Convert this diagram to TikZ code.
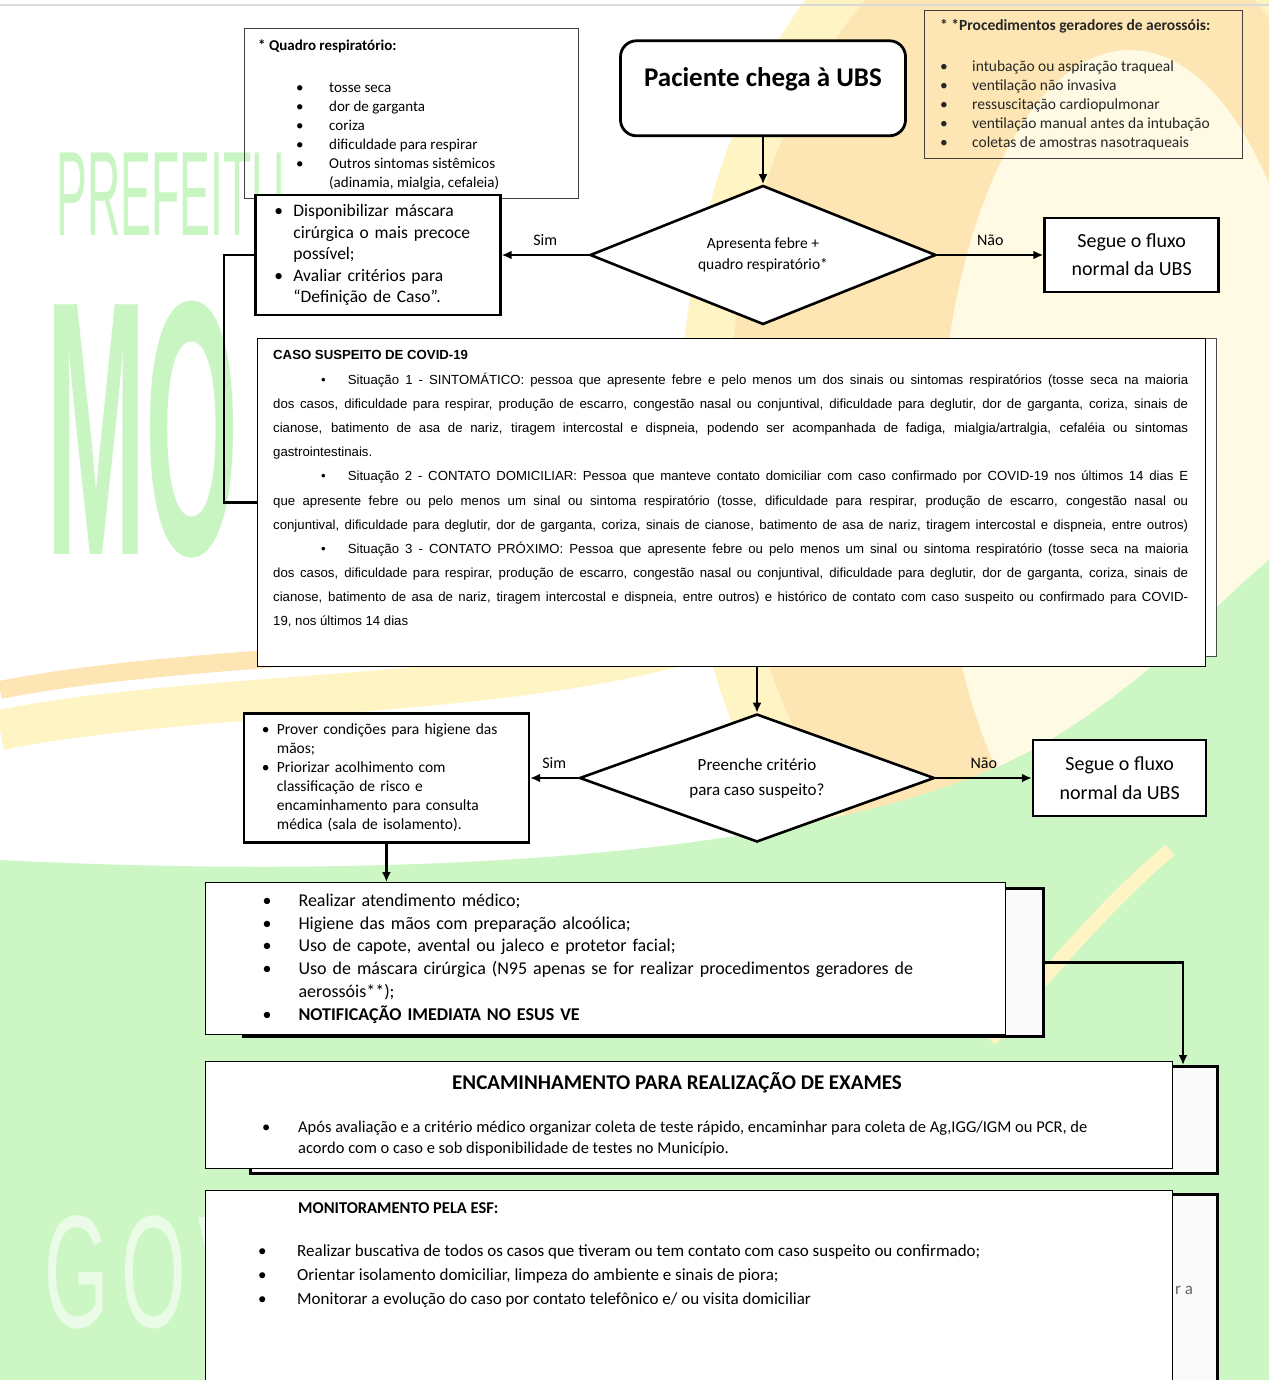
\documentclass[tikz,border=0pt]{standalone}
\usepackage{fontspec}
\setmainfont{Carlito}
\newfontfamily\arialf{Liberation Sans}
\usetikzlibrary{shapes.geometric,arrows.meta,positioning,calc}
\definecolor{wmgreen}{RGB}{204,247,196}
\definecolor{wmletter}{RGB}{200,245,194}
\definecolor{wmorange}{RGB}{253,230,180}
\definecolor{wmyellow}{RGB}{255,244,196}
\definecolor{wmpale}{RGB}{255,250,228}
\newcommand{\bul}[2]{\makebox[#1][l]{\textbullet}#2}
\newcommand{\jl}[1]{\makebox[915pt][s]{#1}}
\tikzset{
    x=1pt, y=-1pt,
    flow/.style={-{Latex[length=10pt,width=9pt]}, line width=2.6pt},
    flowline/.style={line width=2.6pt},
    start/.style={rectangle, rounded corners=16pt, draw, line width=2.8pt, fill=white,
        minimum width=285pt, minimum height=95pt, inner sep=0pt},
    decision/.style={diamond, draw, line width=2.6pt, fill=white, inner sep=0pt, align=center},
    thickbox/.style={rectangle, draw, line width=2.6pt, fill=white, inner sep=0pt},
    thinbox/.style={rectangle, draw=black!75, line width=1.2pt, inner sep=0pt},
    frontbox/.style={rectangle, draw, line width=1.1pt, fill=white, inner sep=0pt},
    backbox/.style={rectangle, draw, line width=3pt, fill=black!2, inner sep=0pt},
    el/.style={inner sep=0pt, font=\fontsize{16}{16}\selectfont},
    txt/.style={inner sep=0pt, align=left, anchor=north west}
}
\begin{document}
\begin{tikzpicture}
% background and watermark
\clip (0,0) rectangle (1269,1380);
\fill[white] (0,0) rectangle (1269,1380);
\fill[wmyellow] (1060,430) ellipse[x radius=380, y radius=580];
\fill[wmorange] (1060,420) ellipse[x radius=330, y radius=520];
\fill[wmpale] (1130,470) ellipse[x radius=190, y radius=420];
\draw[wmyellow, line width=40pt] (0,730) .. controls (200,690) and (500,700) .. (700,640);
\draw[wmorange, line width=18pt] (0,690) .. controls (200,650) and (500,660) .. (700,600);
\fill[wmgreen] (0,1380) -- (0,860) .. controls (400,880) and (850,860) .. (1050,740)
    .. controls (1150,680) and (1220,600) .. (1269,560) -- (1269,1380) -- cycle;
\draw[wmyellow, line width=14pt] (990,1040) .. controls (1060,960) and (1110,900) .. (1170,850);
\draw[gray!30, line width=2pt] (0,5) -- (1269,5);
\node[anchor=west, text=wmletter, font=\arialf\fontsize{120}{120}\selectfont, xscale=0.385]
    (wmtop) at (55,195) {PREFEITU};
\node[anchor=west, text=wmletter, font=\arialf\bfseries\fontsize{363}{363}\selectfont, xscale=0.33]
    (wmmid) at (45,430) {MO};
\node[anchor=west, inner sep=0pt, text=white, opacity=.6, font=\arialf\fontsize{160}{160}\selectfont, xscale=0.52]
    (wmbot) at (44,1272) {G\hspace{24pt}O\hspace{24pt}V};

% notes
\node[thinbox, minimum width=334pt, minimum height=170pt, anchor=north west] (quadro) at (244,28) {};
\node[txt, font=\fontsize{15}{19}\selectfont] (quadrotxt) at (258,40)
    {\textbf{* Quadro respiratório:}\\[23pt]
     \hspace*{38pt}\bul{33pt}{tosse seca}\\
     \hspace*{38pt}\bul{33pt}{dor de garganta}\\
     \hspace*{38pt}\bul{33pt}{coriza}\\
     \hspace*{38pt}\bul{33pt}{dificuldade para respirar}\\
     \hspace*{38pt}\bul{33pt}{Outros sintomas sistêmicos}\\
     \hspace*{71pt}(adinamia, mialgia, cefaleia)};
\node[thinbox, minimum width=318pt, minimum height=148pt, anchor=north west] (proc) at (924,10) {};
\node[txt, text=black!85, font=\fontsize{15.5}{19}\selectfont] (proctxt) at (940,19)
    {\textbf{* *Procedimentos geradores de aerossóis:}\\[22pt]
     \bul{32pt}{intubação ou aspiração traqueal}\\
     \bul{32pt}{ventilação não invasiva}\\
     \bul{32pt}{ressuscitação cardiopulmonar}\\
     \bul{32pt}{ventilação manual antes da intubação}\\
     \bul{32pt}{coletas de amostras nasotraqueais}};

% first decision
\node[decision, aspect=2.5, minimum width=346pt, minimum height=139pt, font=\fontsize{15.5}{21}\selectfont]
    (d1) at (763,255) {Apresenta febre +\\quadro respiratório*};
\node[start, above=47pt of d1, font=\bfseries\fontsize{27}{27}\selectfont, text depth=23pt] (pac) {Paciente chega à UBS};
\node[thickbox, left=87pt of d1, minimum width=245pt, minimum height=120pt, inner xsep=19pt,
    text width=207pt, align=left, font=\fontsize{17.5}{21.5}\selectfont] (disp)
    {\bul{19pt}{Disponibilizar máscara}\\
     \hspace*{19pt}cirúrgica o mais precoce\\
     \hspace*{19pt}possível;\\
     \bul{19pt}{Avaliar critérios para}\\
     \hspace*{19pt}“Definição de Caso”.};
\node[thickbox, right=106pt of d1, minimum width=174pt, minimum height=74pt, align=center,
    font=\fontsize{20}{28}\selectfont] (seg1) {Segue o fluxo\\normal da UBS};

% suspect case
\node[rectangle, draw=black!70, line width=1.3pt, fill=white, minimum width=948pt, minimum height=318pt,
    anchor=north west] (casoback) at (268,338) {};
\node[frontbox, minimum width=948pt, minimum height=328pt, anchor=north west] (caso) at (257,338) {};
\node[txt, font=\arialf\fontsize{13.2}{24.1}\selectfont] (casotxt) at (273,350)
    {\textbf{CASO SUSPEITO DE COVID-19}\\[1pt]
     \jl{\hspace*{48pt}\textbullet\hspace{22pt}Situação 1 - SINTOMÁTICO: pessoa que apresente febre e pelo menos um dos sinais ou sintomas respiratórios (tosse seca na maioria}\\
     \jl{dos casos, dificuldade para respirar, produção de escarro, congestão nasal ou conjuntival, dificuldade para deglutir, dor de garganta, coriza, sinais de}\\
     \jl{cianose, batimento de asa de nariz, tiragem intercostal e dispneia, podendo ser acompanhada de fadiga, mialgia/artralgia, cefaléia ou sintomas}\\
     gastrointestinais.\\
     \jl{\hspace*{48pt}\textbullet\hspace{22pt}Situação 2 - CONTATO DOMICILIAR: Pessoa que manteve contato domiciliar com caso confirmado por COVID-19 nos últimos 14 dias E}\\
     \jl{que apresente febre ou pelo menos um sinal ou sintoma respiratório (tosse, dificuldade para respirar, produção de escarro, congestão nasal ou}\\
     \jl{conjuntival, dificuldade para deglutir, dor de garganta, coriza, sinais de cianose, batimento de asa de nariz, tiragem intercostal e dispneia, entre outros)}\\
     \jl{\hspace*{48pt}\textbullet\hspace{22pt}Situação 3 - CONTATO PRÓXIMO: Pessoa que apresente febre ou pelo menos um sinal ou sintoma respiratório (tosse seca na maioria}\\
     \jl{dos casos, dificuldade para respirar, produção de escarro, congestão nasal ou conjuntival, dificuldade para deglutir, dor de garganta, coriza, sinais de}\\
     \jl{cianose, batimento de asa de nariz, tiragem intercostal e dispneia, entre outros) e histórico de contato com caso suspeito ou confirmado para COVID-}\\
     19, nos últimos 14 dias};

% second decision
\node[decision, aspect=2.77, minimum width=355pt, minimum height=128pt, font=\fontsize{17}{25}\selectfont]
    (d2) at (757,778) {Preenche critério\\para caso suspeito?};
\node[thickbox, left=48pt of d2, minimum width=285pt, minimum height=129pt, inner xsep=18pt,
    text width=249pt, align=left, font=\fontsize{15.5}{19}\selectfont] (prov)
    {\bul{15pt}{Prover condições para higiene das}\\
     \hspace*{15pt}mãos;\\
     \bul{15pt}{Priorizar acolhimento com}\\
     \hspace*{15pt}classificação de risco e\\
     \hspace*{15pt}encaminhamento para consulta\\
     \hspace*{15pt}médica (sala de isolamento).};
\node[thickbox, right=96pt of d2, minimum width=173pt, minimum height=76pt, align=center,
    font=\fontsize{20}{29}\selectfont] (seg2) {Segue o fluxo\\normal da UBS};

% care, exams, monitoring
\node[backbox, minimum width=800pt, minimum height=148pt, anchor=north west] (realback) at (242,887) {};
\node[frontbox, minimum width=800pt, minimum height=152pt, anchor=north west, inner xsep=57pt,
    text width=686pt, align=left, font=\fontsize{18}{22.7}\selectfont] (real) at (205,882)
    {\bul{36pt}{Realizar atendimento médico;}\\
     \bul{36pt}{Higiene das mãos com preparação alcoólica;}\\
     \bul{36pt}{Uso de capote, avental ou jaleco e protetor facial;}\\
     \bul{36pt}{Uso de máscara cirúrgica (N95 apenas se for realizar procedimentos geradores de}\\
     \hspace*{36pt}aerossóis**);\\
     \bul{36pt}{\textbf{NOTIFICAÇÃO IMEDIATA NO ESUS VE}}};
\node[backbox, minimum width=967pt, minimum height=107pt, anchor=north west] (encback) at (249,1065) {};
\node[frontbox, minimum width=967pt, minimum height=107pt, anchor=north west] (enc) at (205,1061) {};
\node[font=\bfseries\fontsize{21}{21}\selectfont, inner sep=0pt] (enctitle) at (677,1083)
    {ENCAMINHAMENTO PARA REALIZAÇÃO DE EXAMES};
\node[txt, font=\fontsize{16.5}{21}\selectfont] (enctxt) at (262,1121)
    {\bul{36pt}{Após avaliação e a critério médico organizar coleta de teste rápido, encaminhar para coleta de Ag,IGG/IGM ou PCR, de}\\
     \hspace*{36pt}acordo com o caso e sob disponibilidade de testes no Município.};
\node[backbox, minimum width=967pt, minimum height=220pt, anchor=north west] (monback) at (249,1193) {};
\node[anchor=west, text=black!60, font=\fontsize{17}{17}\selectfont, inner sep=0pt] (monhid) at (1175,1290) {r a};
\node[frontbox, minimum width=967pt, minimum height=220pt, anchor=north west] (mon) at (205,1190) {};
\node[txt, font=\bfseries\fontsize{16.5}{16.5}\selectfont] (montitle) at (298,1202) {MONITORAMENTO PELA ESF:};
\node[txt, font=\fontsize{17}{24}\selectfont] (montxt) at (258,1244)
    {\bul{39pt}{Realizar buscativa de todos os casos que tiveram ou tem contato com caso suspeito ou confirmado;}\\
     \bul{39pt}{Orientar isolamento domiciliar, limpeza do ambiente e sinais de piora;}\\
     \bul{39pt}{Monitorar a evolução do caso por contato telefônico e/ ou visita domiciliar}};

% connectors
\coordinate (encin) at (1183,1065);
\draw[flow] (pac) -- (d1);
\draw[flow] (d1) -- node[el, above=8pt] {Sim} (disp);
\draw[flow] (d1) -- node[el, above=8pt] {Não} (seg1);
\draw[flowline] (disp.west) -- ++(-30,0) |- (caso.west);
\draw[flow] (caso.south -| d2.north) -- (d2);
\draw[flow] (d2) -- node[el, above=8pt] {Sim} (prov);
\draw[flow] (d2) -- node[el, above=8pt] {Não} (seg2);
\draw[flow] (prov) -- (prov |- real.north);
\draw[flow] (realback.east) -| (encin);
\end{tikzpicture}
\end{document}
